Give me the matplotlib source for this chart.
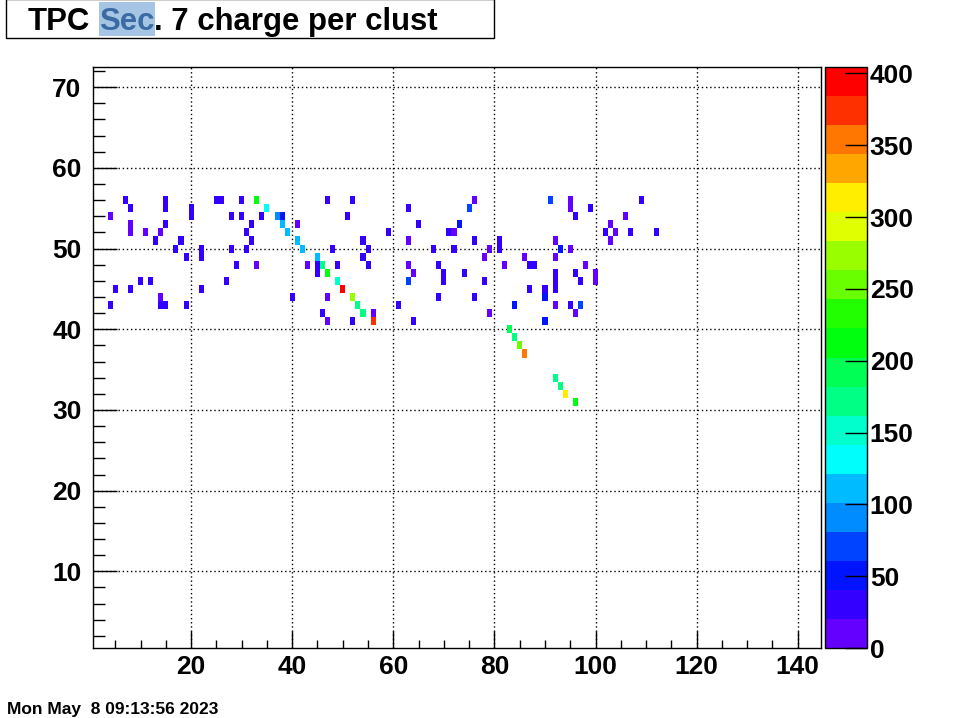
import numpy as np
import matplotlib
matplotlib.use("Agg")
import matplotlib.pyplot as plt
from matplotlib.colors import ListedColormap, BoundaryNorm
from matplotlib.patches import Rectangle
from matplotlib.ticker import MultipleLocator
import colorsys

title_pre = "TPC"
title_sel = "Sec"
title_post = ". 7 charge per clust"
date_text = "Mon May  8 09:13:56 2023"

x_ticks = [20, 40, 60, 80, 100, 120, 140]
y_ticks = [10, 20, 30, 40, 50, 60, 70]
z_ticks = [0, 50, 100, 150, 200, 250, 300, 350, 400]

# pad (x), row (y), charge (z)
pad_x = [7, 8, 15, 15, 20, 20, 4, 8, 8, 11, 15, 14, 13, 18, 17, 19, 22, 22, 10, 12, 5, 8, 22, 14, 14, 15, 4, 19,
         25, 26, 30, 33, 47, 35, 28, 30, 34, 37, 38, 38, 32, 41, 39, 31, 32, 41, 42, 28, 31, 48, 45, 29, 33, 43,
         45, 45, 46, 49, 47, 49, 27, 40, 47, 46, 47,
         52, 63, 51, 65, 59, 71, 72, 54, 63, 55, 68, 72, 54, 55, 63, 64, 69, 70, 70, 63, 50, 52, 53, 54, 56, 56,
         52, 61, 64, 69,
         76, 75, 91, 95, 95, 96, 73, 76, 81, 81, 92, 93, 95, 79, 78, 86, 92, 82, 87, 88, 92, 92, 92, 96, 74, 78,
         87, 90, 90, 76, 84, 92, 95, 97, 96, 79, 90,
         99, 109, 106, 103, 102, 104, 103, 107, 112, 98, 97, 100, 100,
         83, 84, 85, 86, 92, 93, 94, 96]
row_y = [56, 55, 56, 55, 55, 54, 54, 53, 52, 52, 53, 52, 51, 51, 50, 49, 50, 49, 46, 46, 45, 45, 45, 44, 43, 43, 43, 43,
         56, 56, 56, 56, 56, 55, 54, 54, 54, 54, 54, 53, 53, 53, 52, 52, 51, 51, 50, 50, 50, 50, 49, 48, 48, 48,
         48, 47, 48, 48, 47, 46, 46, 44, 44, 42, 41,
         56, 55, 54, 53, 52, 52, 52, 51, 51, 50, 50, 50, 49, 48, 48, 47, 48, 47, 46, 46, 45, 44, 43, 42, 42, 41,
         41, 43, 41, 44,
         56, 55, 56, 56, 55, 54, 53, 51, 51, 50, 51, 50, 50, 50, 49, 49, 49, 48, 48, 48, 47, 46, 45, 47, 47, 46,
         45, 45, 44, 44, 43, 43, 43, 43, 42, 42, 41,
         55, 56, 54, 53, 52, 52, 51, 52, 52, 48, 46, 47, 46,
         40, 39, 38, 37, 34, 33, 32, 31]
charge = [30, 30, 30, 30, 30, 25, 10, 10, 10, 10, 30, 12, 30, 30, 30, 35, 30, 30, 30, 30, 30, 30, 30, 12, 30, 30, 35, 30,
          35, 35, 30, 205, 30, 130, 30, 30, 30, 90, 45, 110, 30, 15, 120, 30, 30, 115, 112, 30, 30, 30, 108, 30, 12, 12,
          30, 35, 165, 30, 205, 160, 30, 30, 15, 30, 15,
          30, 35, 30, 30, 30, 30, 15, 30, 15, 30, 30, 30, 30, 30, 15, 15, 30, 30, 30, 70, 404, 270, 170, 170, 15, 370,
          30, 30, 30, 30,
          15, 70, 70, 15, 15, 30, 45, 30, 30, 30, 15, 45, 15, 15, 15, 15, 15, 15, 22, 22, 22, 22, 22, 25, 30, 30,
          30, 30, 45, 30, 50, 15, 30, 70, 15, 15, 45,
          30, 30, 15, 15, 30, 15, 15, 30, 30, 15, 25, 15, 15,
          185, 165, 255, 345, 170, 165, 305, 215]

# ---- ROOT "pretty palette" (SetPalette(1)) sampled at 20 contour levels
ncol, nlev = 50, 20
colors = []
for k in range(nlev):
    idx = int((k + 0.99) * ncol / nlev)
    hue = 280.0 - (idx + 1) * (280.0 / ncol)
    colors.append(colorsys.hls_to_rgb(hue / 360.0, 0.5, 1.0))
cmap = ListedColormap(colors)
zmax = max(charge) + 0.5
norm = BoundaryNorm(np.linspace(0, zmax, nlev + 1), cmap.N)

nx, ny = 144, 72
z = np.full((ny, nx), np.nan)
for xi, yi, v in zip(pad_x, row_y, charge):
    z[yi - 1, xi - 1] = v
z = np.ma.masked_invalid(z)
xe = np.arange(0.5, nx + 1.0, 1.0)
ye = np.arange(0.5, ny + 1.0, 1.0)

W, H = 964, 718
fig = plt.figure(figsize=(W / 100, H / 100), dpi=100)
fig.patch.set_facecolor("white")
FONT = "Liberation Sans"

def fx(px):
    return px / W

def fy(py):
    return 1 - py / H

ax = fig.add_axes([fx(92.5), fy(648), (820.5 - 92.5) / W, (648 - 67) / H])
mesh = ax.pcolormesh(xe, ye, z, cmap=cmap, norm=norm, shading="flat",
                     antialiased=False, edgecolors="none")
ax.set_xlim(0.5, 144.5)
ax.set_ylim(0.5, 72.5)
ax.set_axisbelow(True)
ax.grid(True, which="major", color="black", linestyle=(0, (1, 2.0)), linewidth=1.0)
ax.set_xticks(x_ticks)
ax.set_yticks(y_ticks)
ax.xaxis.set_minor_locator(MultipleLocator(5))
ax.yaxis.set_minor_locator(MultipleLocator(2))
ax.tick_params(axis="x", which="major", direction="in", length=12, width=1, pad=5)
ax.tick_params(axis="x", which="minor", direction="in", length=6, width=1)
ax.tick_params(axis="y", which="major", direction="in", length=17, width=1, pad=8)
ax.tick_params(axis="y", which="minor", direction="in", length=8.5, width=1)
for lab in ax.get_xticklabels() + ax.get_yticklabels():
    lab.set_fontfamily(FONT)
    lab.set_fontweight("bold")
    lab.set_fontsize(19)
for s in ax.spines.values():
    s.set_linewidth(1)

cax = fig.add_axes([fx(825), fy(648), 42 / W, (648 - 67) / H])
cb = fig.colorbar(mesh, cax=cax, ticks=z_ticks)
cb.outline.set_linewidth(1)
cb.minorticks_off()
cax.tick_params(direction="in", length=16, width=1, pad=2)
for lab in cax.get_yticklabels():
    lab.set_fontfamily(FONT)
    lab.set_fontweight("bold")
    lab.set_fontsize(19)

# ---- title box
fig.add_artist(Rectangle((fx(6), fy(38)), (494 - 6) / W, 39 / H, transform=fig.transFigure,
                         facecolor="white", edgecolor="black", linewidth=1, zorder=2))
tkw = dict(fontfamily=FONT, fontweight="bold", fontsize=22.4)
r = fig.canvas.get_renderer()

def textwidth(s):
    t = fig.text(0, 0, s, **tkw)
    w = t.get_window_extent(r).width
    t.remove()
    return w

full_sel = title_pre + " " + title_sel
full = full_sel + title_post
x_left = 28
x_sel = x_left + textwidth(full_sel) - textwidth(title_sel)
w_sel = textwidth(title_sel)
x_post = x_left + textwidth(full) - textwidth(title_post)

fig.text(fx(x_left), fy(30), title_pre, va="baseline", ha="left", color="black", zorder=3, **tkw)
fig.add_artist(Rectangle((fx(x_sel), fy(36)), (w_sel + 1) / W, 34 / H, transform=fig.transFigure,
                         facecolor="#a6c5e5", edgecolor="none", zorder=3))
fig.text(fx(x_sel), fy(30), title_sel, va="baseline", ha="left", color="#3a6ca3", zorder=4, **tkw)
fig.text(fx(x_post), fy(30), title_post, va="baseline", ha="left", color="black", zorder=4, **tkw)

fig.text(fx(7), fy(714), date_text, va="baseline", ha="left",
         fontfamily=FONT, fontweight="bold", fontsize=12.5, color="black")

fig.savefig("out.png", dpi=100, facecolor="white")
